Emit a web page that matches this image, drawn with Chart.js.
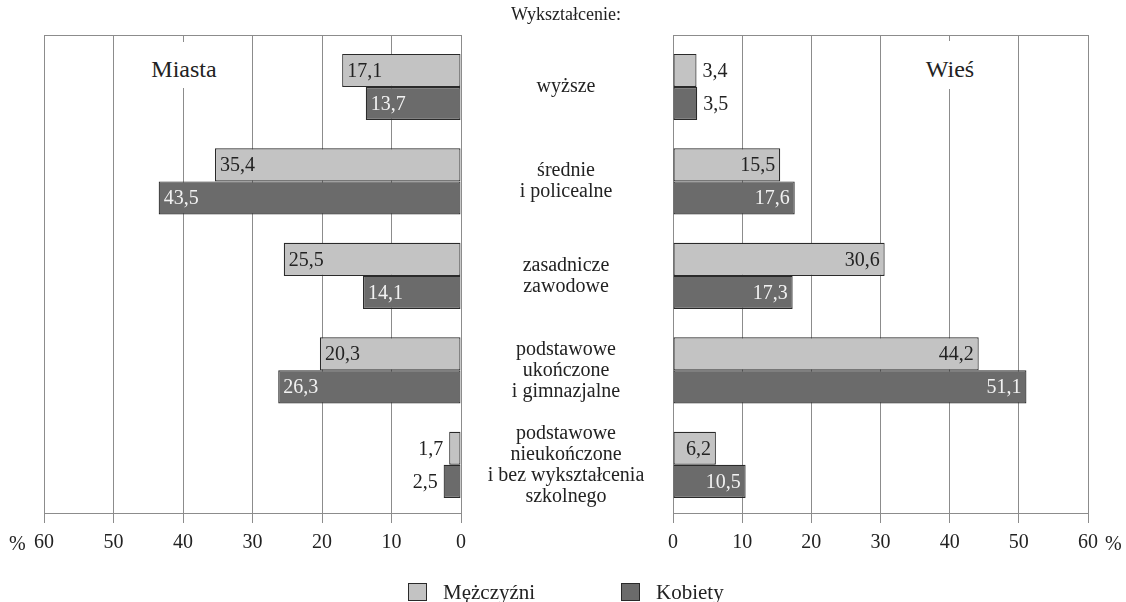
<!DOCTYPE html>
<html>
<head>
<meta charset="utf-8">
<script src="https://cdn.jsdelivr.net/npm/chart.js@4.4.0/dist/chart.umd.min.js"></script>
<style>
  html, body { margin: 0; padding: 0; background: #fff; }
  body { width: 1126px; height: 602px; position: relative; overflow: hidden; font-family: "Liberation Serif", serif; color: #222; }
  canvas { position: absolute; top: 0; }
  .txt { position: absolute; white-space: nowrap; }
  .panelTitle { position: absolute; background: #fff; font-size: 24px; text-align: center; }
  .legbox { position: absolute; width: 17px; height: 16px; border: 1.5px solid #2a2a2a; }
</style>
</head>
<body>
<canvas id="left" width="671" height="602" style="left:0"></canvas>
<canvas id="right" width="466" height="602" style="left:660px"></canvas>

<div class="txt" style="left:466px; width:200px; top:4px; text-align:center; font-size:18px;">Wykształcenie:</div>
<div class="panelTitle" style="left:144px; top:42px; width:80px; height:46px; line-height:54px;">Miasta</div>
<div class="panelTitle" style="left:910px; top:41px; width:80px; height:48px; line-height:56px;">Wieś</div>
<div class="txt" style="left:9px; top:532px; font-size:20px;">%</div>
<div class="txt" style="left:1105px; top:532px; font-size:20px;">%</div>

<div class="legbox" style="left:408px; top:583px; background:#c3c3c3;"></div>
<div class="txt" style="left:443px; top:580px; font-size:21px;">Mężczyźni</div>
<div class="legbox" style="left:621px; top:583px; background:#6b6b6b;"></div>
<div class="txt" style="left:656px; top:580px; font-size:21px;">Kobiety</div>

<script>
// ---- data ----
const categories = [
  ['wyższe'],
  ['średnie', 'i policealne'],
  ['zasadnicze', 'zawodowe'],
  ['podstawowe', 'ukończone', 'i gimnazjalne'],
  ['podstawowe', 'nieukończone', 'i bez wykształcenia', 'szkolnego']
];
const seriesNames = ['Mężczyźni', 'Kobiety'];
const miastaMen   = [17.1, 35.4, 25.5, 20.3, 1.7];
const miastaWomen = [13.7, 43.5, 14.1, 26.3, 2.5];
const wiesMen     = [3.4, 15.5, 30.6, 44.2, 6.2];
const wiesWomen   = [3.5, 17.6, 17.3, 51.1, 10.5];
const xTicks = [0, 10, 20, 30, 40, 50, 60];

// ---- style ----
const FONT = 'Liberation Serif';
const menColor = '#c3c3c3';
const womenColor = '#6b6b6b';
const edgeColor = '#2a2a2a';
const gridColor = '#8c8c8c';
const textColor = '#222222';

const fmt = v => v.toFixed(1).replace('.', ',');

const valueLabels = {
  id: 'valueLabels',
  afterDatasetsDraw(chart) {
    const ctx = chart.ctx;
    const reversed = chart.options.scales.x.reverse;
    ctx.save();
    ctx.font = '20px "' + FONT + '"';
    ctx.textBaseline = 'middle';
    chart.data.datasets.forEach((ds, di) => {
      const meta = chart.getDatasetMeta(di);
      meta.data.forEach((bar, i) => {
        const v = ds.data[i];
        const outside = v < 5;
        let x, align;
        if (!reversed) {
          if (outside) { x = bar.x + 6; align = 'left'; }
          else { x = bar.x - 5; align = 'right'; }
        } else {
          if (outside) { x = bar.x - 6; align = 'right'; }
          else { x = bar.x + 5; align = 'left'; }
        }
        ctx.textAlign = align;
        ctx.fillStyle = (di === 1 && !outside) ? '#f2f2f2' : textColor;
        ctx.fillText(fmt(v), x, bar.y + 1);
      });
    });
    ctx.restore();
  }
};

// measure widest category line to center labels between panels
const mctx = document.createElement('canvas').getContext('2d');
mctx.font = '20px "' + FONT + '"';
let widest = 0;
categories.forEach(l => l.forEach(s => { widest = Math.max(widest, mctx.measureText(s).width); }));
const centerGap = 210;
const labelPadding = Math.max(0, centerGap / 2 - widest / 2);

function makeDatasets(men, women) {
  return [
    { label: seriesNames[0], data: men, backgroundColor: menColor, borderColor: edgeColor, borderWidth: 1.2, borderSkipped: false, barPercentage: 1, categoryPercentage: 0.70 },
    { label: seriesNames[1], data: women, backgroundColor: womenColor, borderColor: edgeColor, borderWidth: 1.2, borderSkipped: false, barPercentage: 1, categoryPercentage: 0.70 }
  ];
}

function xScale(reverse) {
  return {
    type: 'linear', position: 'bottom', reverse: reverse, min: 0, max: 60,
    afterBuildTicks: s => { s.ticks = xTicks.map(v => ({ value: v })); },
    ticks: { color: textColor, font: { family: FONT, size: 20 }, padding: 8, maxRotation: 0 },
    grid: { color: gridColor, lineWidth: 1, tickLength: 10, drawTicks: true },
    border: { display: true, color: gridColor, width: 1 },
    afterFit: s => { s.height = 40; }
  };
}
const topBorder = {
  type: 'linear', axis: 'x', position: 'top', display: true,
  ticks: { display: false }, grid: { display: false, drawTicks: false },
  border: { display: true, color: gridColor, width: 1 },
  afterFit: s => { s.height = 0; }
};

const idx = categories.map((_, i) => i);
const yMin = -0.55, yMax = 4.51;

new Chart(document.getElementById('left'), {
  type: 'bar',
  data: { labels: idx, datasets: makeDatasets(miastaMen, miastaWomen) },
  options: {
    indexAxis: 'y', responsive: false, animation: false, devicePixelRatio: 1,
    layout: { padding: { left: 44, right: 0, top: 35, bottom: 49 } },
    plugins: { legend: { display: false }, tooltip: { enabled: false } },
    scales: {
      x: xScale(true),
      x2: topBorder,
      y: {
        type: 'linear', position: 'right', reverse: true, min: yMin, max: yMax, offset: false,
        afterBuildTicks: s => { s.ticks = idx.map(v => ({ value: v })); },
        ticks: { callback: v => categories[v], crossAlign: 'center', padding: labelPadding,
                 color: textColor, font: { family: FONT, size: 20, lineHeight: 1.05 } },
        grid: { display: false, drawTicks: false, offset: false },
        border: { display: false },
        afterFit: s => { s.width = centerGap; s.paddingTop = 0; s.paddingBottom = 0; }
      }
    }
  },
  plugins: [valueLabels]
});

new Chart(document.getElementById('right'), {
  type: 'bar',
  data: { labels: idx, datasets: makeDatasets(wiesMen, wiesWomen) },
  options: {
    indexAxis: 'y', responsive: false, animation: false, devicePixelRatio: 1,
    layout: { padding: { left: 11, right: 38, top: 35, bottom: 49 } },
    plugins: { legend: { display: false }, tooltip: { enabled: false } },
    scales: {
      x: xScale(false),
      x2: topBorder,
      y: {
        type: 'linear', display: false, reverse: true, min: yMin, max: yMax, offset: false,
        afterBuildTicks: s => { s.ticks = idx.map(v => ({ value: v })); },
        grid: { offset: false }
      }
    }
  },
  plugins: [valueLabels]
});
</script>
</body>
</html>
